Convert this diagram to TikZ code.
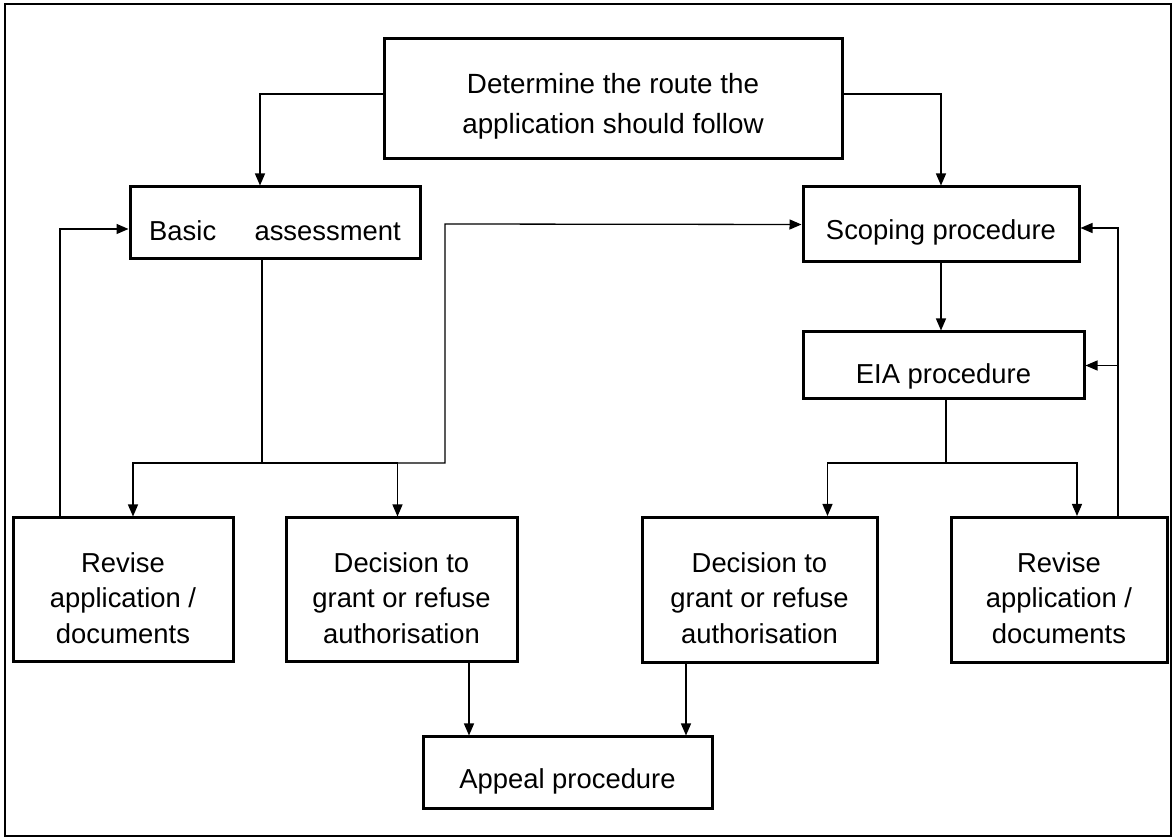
\documentclass[tikz,border=0pt]{standalone}
\usepackage{fontspec}
\setmainfont{Liberation Sans}
\usetikzlibrary{arrows.meta}
% strut that lowers the text block a little inside its box
\newcommand\padtop[1][18pt]{\rule{0pt}{#1}}
\begin{document}
\begin{tikzpicture}[x=0.5pt,y=-0.5pt,
  box/.style={draw, line width=1.5pt, rectangle, align=center, inner sep=0pt,
    font=\fontsize{13.7}{17.75}\selectfont},
  conn/.style={line width=0.65pt},
  arr/.style={conn, -{Triangle[length=6pt,width=5pt]}}]

\useasboundingbox (0,0) rectangle (1175,839);
% outer frame
\draw[line width=0.75pt] (5,4) rectangle (1171,836);

% boxes
\node[box, minimum width=229pt, minimum height=60pt,
  font=\fontsize{13.9}{20}\selectfont] (top) at (613,99)
  {\padtop[17pt]Determine the route the\\application should follow};
\node[box, minimum width=145pt, minimum height=36pt] (basic) at (275,223)
  {\padtop Basic\hspace{1.4em}assessment};
\node[box, minimum width=138pt, minimum height=37.5pt] (scoping) at (941,224.5)
  {\padtop Scoping procedure};
\node[box, minimum width=140.5pt, minimum height=33.5pt] (eia) at (943.5,365.5)
  {\padtop[21pt]EIA procedure};
\node[box, minimum width=110pt, minimum height=72pt] (revL) at (123,590)
  {\padtop Revise\\application /\\documents};
\node[box, minimum width=115.5pt, minimum height=72pt] (decL) at (401.5,590)
  {\padtop Decision to\\grant or refuse\\authorisation};
\node[box, minimum width=117.5pt, minimum height=72.5pt] (decR) at (759.5,590)
  {\padtop Decision to\\grant or refuse\\authorisation};
\node[box, minimum width=108pt, minimum height=72.5pt] (revR) at (1059,590)
  {\padtop Revise\\application /\\documents};
\node[box, minimum width=144.5pt, minimum height=36pt] (appeal) at (567.5,773)
  {\padtop Appeal procedure};

% routing from the top box
\draw[arr] ([yshift=2.5pt]top.west) -| ([xshift=-7.5pt]basic.north);
\draw[arr] ([yshift=2.5pt]top.east) -| (scoping.north);

% basic assessment branch
\coordinate (jL) at (262,463);
\coordinate (bend) at (445,224);
\draw[conn] ([xshift=-6.5pt]basic.south) -- (jL);
\draw[arr] (jL) -| ([xshift=5pt]revL.north);
\draw[arr] (jL) -| ([xshift=-2pt]decL.north);
\draw[arr] (jL) -| (bend) -- (scoping.west);

% left feedback loop
\coordinate (lfb) at ([xshift=-31.5pt]revL.north);
\draw[arr] (lfb) |- ([yshift=-3pt]basic.west);

% scoping to EIA
\draw[arr] (scoping.south) -- (scoping.south |- eia.north);

% EIA branch
\coordinate (jR) at (946,463);
\draw[conn] ([xshift=1.25pt]eia.south) -- (jR);
\draw[arr] (jR) -| ([xshift=34pt]decR.north);
\draw[arr] (jR) -| ([xshift=9pt]revR.north);

% right feedback loop
\coordinate (rfb) at ([xshift=29.5pt]revR.north);
\draw[arr] (rfb) |- ([yshift=-1.75pt]scoping.east);
\draw[arr] (rfb |- eia.east) -- (eia.east);

% appeals
\coordinate (apL) at ([xshift=33.75pt]decL.south);
\coordinate (apR) at ([xshift=-36.75pt]decR.south);
\draw[arr] (apL) -- (apL |- appeal.north);
\draw[arr] (apR) -- (apR |- appeal.north);
\end{tikzpicture}
\end{document}
